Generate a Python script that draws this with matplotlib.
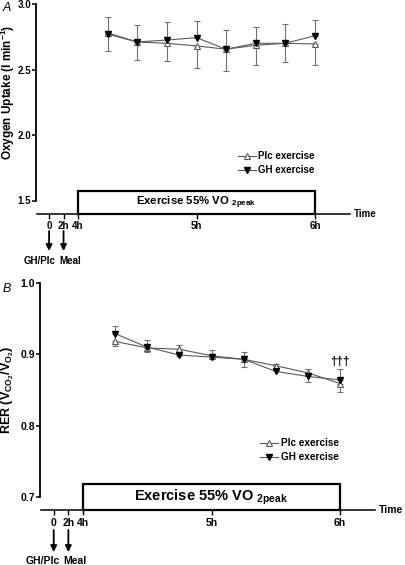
import matplotlib
matplotlib.use("Agg")
import matplotlib.pyplot as plt
from matplotlib.patches import Rectangle
from matplotlib.lines import Line2D
import numpy as np

plt.rcParams['font.family'] = ['Liberation Sans', 'DejaVu Sans']
plt.rcParams['mathtext.fontset'] = 'custom'
plt.rcParams['mathtext.rm'] = 'Liberation Sans'
plt.rcParams['mathtext.bf'] = 'Liberation Sans:bold'
plt.rcParams['mathtext.it'] = 'Liberation Sans:italic'

# ---------------- data ----------------
time_points = [4.25, 4.5, 4.75, 5.0, 5.25, 5.5, 5.75, 6.0]

vo2_plc = [2.78, 2.71, 2.70, 2.68, 2.655, 2.685, 2.70, 2.695]
vo2_plc_err = [0.139, 0.137, 0.138, 0.168, 0.169, 0.151, 0.14, 0.163]
vo2_gh = [2.77, 2.71, 2.725, 2.743, 2.655, 2.70, 2.70, 2.758]
vo2_gh_err = [0.128, 0.127, 0.135, 0.125, 0.145, 0.122, 0.145, 0.118]

rer_plc = [0.918, 0.909, 0.907, 0.898, 0.893, 0.884, 0.874, 0.859]
rer_plc_err = [0.006, 0.006, 0.009, 0.005, 0.011, 0.006, 0.013, 0.012]
rer_gh = [0.929, 0.910, 0.899, 0.896, 0.893, 0.876, 0.869, 0.864]
rer_gh_err = [0.010, 0.010, 0.014, 0.010, 0.010, 0.011, 0.010, 0.015]

time_ticks = [0, 2, 4, 5, 6]
time_tick_labels = ['0', '2h', '4h', '5h', '6h']
exercise_start, exercise_end = 4, 6
labels = ['Plc exercise', 'GH exercise']
event_labels = ['GH/Plc', 'Meal']

vo2_yticks = [1.5, 2.0, 2.5, 3.0]
rer_yticks = [0.7, 0.8, 0.9, 1.0]

W, H = 405, 565
fig = plt.figure(figsize=(W / 100, H / 100), dpi=100)

GRAY = '#5a5a5a'
EGRAY = '#707070'


def fx(px):
    return px / W


def fy(py):
    return 1 - py / H


def compress(h, factor):
    # pre-exercise period drawn on a compressed scale
    h = np.asarray(h, dtype=float)
    return np.where(h < 4, 4 - (4 - h) * factor, h)


def panel(rect, xlim, ylim, yticks, ybounds, time_y, box_top, factor,
          plc, plc_err, gh, gh_err, tick_fs, box_fs, leg_anchor, leg_fs,
          arrow_y, lab_y, lab_offsets, time_fs):
    ax = fig.add_axes(rect)
    ax.set_xlim(*xlim)
    ax.set_ylim(*ylim)
    for s in ['top', 'right']:
        ax.spines[s].set_visible(False)
    ax.spines['left'].set_bounds(*ybounds)
    ax.spines['left'].set_linewidth(1.3)
    ax.spines['bottom'].set_position(('data', time_y))
    ax.spines['bottom'].set_linewidth(1.1)
    ax.spines['bottom'].set_bounds(xlim[0] + 0.01, xlim[1])
    ax.set_yticks(yticks)
    ax.set_yticklabels([f'{v:.1f}' for v in yticks], fontsize=tick_fs,
                       fontweight='bold')
    tpos = compress(time_ticks, factor)
    ax.set_xticks(tpos)
    ax.set_xticklabels(time_tick_labels, fontsize=tick_fs, fontweight='bold')
    ax.tick_params(axis='y', length=3, width=1.1, pad=0.6)
    ax.tick_params(axis='x', length=3.5, width=1.0, pad=2)

    # exercise box
    ax.add_patch(Rectangle((exercise_start, time_y), exercise_end - exercise_start,
                           box_top - time_y, fill=False, edgecolor='black',
                           linewidth=1.6, zorder=2))
    ax.text((exercise_start + exercise_end) / 2, (time_y + box_top) / 2,
            r'Exercise 55% VO $_{\mathbf{2peak}}$', ha='center', va='center',
            fontsize=box_fs, fontweight='bold')

    # error bars (GH above, placebo below)
    z = np.zeros(len(time_points))
    ax.errorbar(time_points, gh, yerr=[z, gh_err], fmt='none', ecolor=EGRAY,
                elinewidth=0.8, capsize=2.5, capthick=0.8, zorder=3)
    ax.errorbar(time_points, plc, yerr=[plc_err, z], fmt='none', ecolor=EGRAY,
                elinewidth=0.8, capsize=2.5, capthick=0.8, zorder=3)
    ax.plot(time_points, plc, color=GRAY, lw=0.8, marker='^', ms=5,
            mfc='white', mec=GRAY, mew=0.8, zorder=4)
    ax.plot(time_points, gh, color=GRAY, lw=0.8, marker='v', ms=5,
            mfc='black', mec='black', zorder=5)

    handles = [Line2D([], [], color=GRAY, lw=0.8, marker='^', ms=5, mfc='white',
                      mec=GRAY, mew=0.8),
               Line2D([], [], color=GRAY, lw=0.8, marker='v', ms=5, mfc='black',
                      mec='black')]
    ax.legend(handles, labels, loc='upper left',
              bbox_to_anchor=leg_anchor, bbox_transform=fig.transFigure,
              frameon=False, borderpad=0, borderaxespad=0,
              handlelength=1.8, handletextpad=0.3, labelspacing=0.45,
              prop={'size': leg_fs, 'weight': 'bold'})

    ax.annotate('Time', xy=(xlim[1], time_y), xytext=(3, 0),
                textcoords='offset points', ha='left', va='center',
                fontsize=time_fs, fontweight='bold', annotation_clip=False)

    # arrows and event labels
    for i in range(2):
        ax.annotate('', xy=(tpos[i], fy(arrow_y[1])), xytext=(tpos[i], fy(arrow_y[0])),
                    xycoords=('data', 'figure fraction'),
                    textcoords=('data', 'figure fraction'),
                    arrowprops=dict(arrowstyle='-|>', color='black', lw=1.3,
                                    mutation_scale=9, shrinkA=0, shrinkB=0),
                    annotation_clip=False)
        ax.annotate(event_labels[i], xy=(tpos[i], fy(lab_y)),
                    xycoords=('data', 'figure fraction'),
                    xytext=(lab_offsets[i], 0), textcoords='offset points',
                    ha='center', va='center', fontsize=tick_fs,
                    fontweight='bold', annotation_clip=False)
    return ax


# Panel A
axA = panel([fx(36), fy(230), fx(350) - fx(36), fy(4) - fy(230)],
            (4 - 42 / 118.5, 6 + 35 / 118.5), (3.0 - 226 / 131, 3.0), vo2_yticks,
            (1.5, 3.0), 1.40, 1.569, 0.061, vo2_plc, vo2_plc_err, vo2_gh, vo2_gh_err,
            7, 8.2, (fx(238), fy(151)), 7, (231, 251), 261, (-6.5, 5), 7)
fig.text(fx(8), fy(92), r'Oxygen Uptake (l min$^{\mathbf{-1}}$)',
         rotation=90, ha='center', va='center', fontsize=8.5, fontweight='bold')
fig.text(fx(3), fy(2), 'A', ha='left', va='top', fontsize=9, style='italic')

# Panel B
axB = panel([fx(40), fy(525), fx(375) - fx(40), fy(283) - fy(525)],
            (4 - 43 / 128.5, 6 + 35 / 128.5), (1.0 - 242 / 713, 1.0), rer_yticks,
            (0.7, 1.0), 0.6818, 0.718, 0.057, rer_plc, rer_plc_err, rer_gh, rer_gh_err,
            7.5, 10.5, (fx(260), fy(438)), 7.2, (530, 552), 561, (-8, 5), 7.5)
axB.text(6.0, 0.889, '†††', ha='center', va='center', fontsize=8.5,
         fontweight='bold')
fig.text(fx(8), fy(390), r'RER (V$_{\mathbf{CO_2}}$/V$_{\mathbf{O_2}}$)',
         rotation=90, ha='center', va='center', fontsize=9, fontweight='bold')
fig.text(fx(3), fy(283), 'B', ha='left', va='top', fontsize=9, style='italic')

fig.savefig('out.png', dpi=100)
